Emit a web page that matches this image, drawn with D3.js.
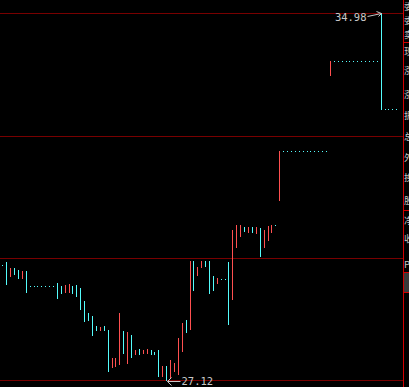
<!DOCTYPE html>
<html>
<head>
<meta charset="utf-8">
<script src="https://cdn.jsdelivr.net/npm/d3@7"></script>
<style>
  html, body { margin: 0; padding: 0; background: #000; }
  svg { display: block; }
</style>
</head>
<body>
<svg id="chart" width="409" height="387"></svg>
<script>
// ---- data (daily candles) ----
const opens = [29.58, 29.65, 29.35, 29.52, 29.48, 29.30, 29.46,
  29.13, 29.13, 29.13, 29.13, 29.13, 29.13, 29.13,
  29.20, 29.13, 29.01, 29.00, 29.14, 29.15, 29.08, 28.81, 28.56, 28.49, 28.28, 28.19, 28.28, 28.19,
  27.39, 27.41, 27.47, 28.17, 27.48, 28.08, 27.68, 27.78, 27.70, 27.70, 27.76, 27.72, 27.76, 27.21,
  27.41, 27.18, 27.32, 27.25, 27.75, 28.40, 28.21, 29.67, 29.37, 29.53, 29.67, 29.67, 29.35, 29.19,
  29.28, 29.28, 29.65, 28.85, 29.96, 30.21, 30.39, 30.30, 30.39, 30.27, 30.37, 29.97, 30.12, 30.30,
  30.44, 30.98,
  32.02, 32.02, 32.02, 32.02, 32.02, 32.02, 32.02, 32.02, 32.02, 32.02, 32.02, 32.02,
  33.65,
  33.95, 33.95, 33.95, 33.95, 33.95, 33.95, 33.95, 33.95, 33.95, 33.95, 33.95, 33.95,
  34.98,
  32.92, 32.92, 32.92, 32.92];
const highs = [29.58, 29.65, 29.52, 29.52, 29.48, 29.46, 29.46,
  29.13, 29.13, 29.13, 29.13, 29.13, 29.13, 29.13,
  29.20, 29.13, 29.15, 29.17, 29.14, 29.15, 29.08, 28.81, 28.56, 28.49, 28.28, 28.26, 28.28, 28.19,
  27.59, 27.60, 28.55, 28.17, 28.15, 28.08, 27.76, 27.78, 27.76, 27.78, 27.76, 27.72, 27.76, 27.42,
  27.41, 27.55, 27.49, 28.01, 28.34, 28.40, 29.67, 29.67, 29.55, 29.67, 29.67, 29.67, 29.35, 29.30,
  29.28, 29.28, 29.65, 30.33, 30.44, 30.44, 30.39, 30.39, 30.39, 30.39, 30.37, 30.33, 30.42, 30.44,
  30.44, 32.02,
  32.02, 32.02, 32.02, 32.02, 32.02, 32.02, 32.02, 32.02, 32.02, 32.02, 32.02, 32.02,
  33.95,
  33.95, 33.95, 33.95, 33.95, 33.95, 33.95, 33.95, 33.95, 33.95, 33.95, 33.95, 33.95,
  34.98,
  32.92, 32.92, 32.92, 32.92];
const lows = [29.58, 29.18, 29.35, 29.38, 29.31, 29.30, 29.01,
  29.13, 29.13, 29.13, 29.13, 29.13, 29.13, 29.13,
  28.88, 28.99, 29.01, 29.00, 28.99, 28.92, 28.64, 28.39, 28.40, 28.08, 28.19, 28.19, 28.19, 27.31,
  27.39, 27.41, 27.47, 27.69, 27.48, 27.61, 27.68, 27.68, 27.70, 27.70, 27.68, 27.68, 27.21, 27.21,
  27.12, 27.18, 27.32, 27.25, 27.75, 28.15, 28.21, 29.05, 29.37, 29.53, 29.57, 28.98, 29.04, 29.19,
  29.28, 29.28, 28.33, 28.85, 29.96, 30.21, 30.32, 30.30, 30.30, 30.27, 29.78, 29.97, 30.12, 30.30,
  30.44, 30.98,
  32.02, 32.02, 32.02, 32.02, 32.02, 32.02, 32.02, 32.02, 32.02, 32.02, 32.02, 32.02,
  33.65,
  33.95, 33.95, 33.95, 33.95, 33.95, 33.95, 33.95, 33.95, 33.95, 33.95, 33.95, 33.95,
  32.92,
  32.92, 32.92, 32.92, 32.92];
const closes = [29.58, 29.18, 29.52, 29.38, 29.31, 29.46, 29.01,
  29.13, 29.13, 29.13, 29.13, 29.13, 29.13, 29.13,
  28.88, 28.99, 29.15, 29.17, 28.99, 28.92, 28.64, 28.39, 28.40, 28.08, 28.19, 28.26, 28.19, 27.31,
  27.59, 27.60, 28.55, 27.69, 28.15, 27.61, 27.76, 27.68, 27.76, 27.78, 27.68, 27.68, 27.21, 27.42,
  27.12, 27.55, 27.49, 28.01, 28.34, 28.15, 29.67, 29.05, 29.55, 29.67, 29.57, 28.98, 29.04, 29.30,
  29.28, 29.28, 28.33, 30.33, 30.44, 30.44, 30.32, 30.39, 30.30, 30.39, 29.78, 30.33, 30.42, 30.44,
  30.44, 32.02,
  32.02, 32.02, 32.02, 32.02, 32.02, 32.02, 32.02, 32.02, 32.02, 32.02, 32.02, 32.02,
  33.95,
  33.95, 33.95, 33.95, 33.95, 33.95, 33.95, 33.95, 33.95, 33.95, 33.95, 33.95, 33.95,
  32.92,
  32.92, 32.92, 32.92, 32.92];
const gridPrices = [34.98, 32.36, 29.74, 27.12];
const panelLabels = ["委比", "委差", "卖盘", "现价", "涨跌", "涨幅", "振幅", "总量", "外盘", "换手", "股本", "净资", "收益", "PE"];

// ---- layout ----
const W = 409, H = 387;
const UP = "#ff5050", DOWN = "#54fcfc", GRID = "#780000", EDGE = "#d00000", TXT = "#c8c8c8";
const svg = d3.select("#chart");
svg.append("rect").attr("width", W).attr("height", H).attr("fill", "#000");

const idx = d3.range(highs.length);
const x = d3.scaleLinear().domain([0, highs.length - 1]).range([2.8, 396.7]);
const y = d3.scaleLinear().domain([d3.min(lows), d3.max(highs)]).range([380, 13]);
const plotRight = 403;

// grid lines
svg.append("g").selectAll("line").data(gridPrices).join("line")
  .attr("x1", 0).attr("x2", plotRight)
  .attr("y1", d => Math.ceil(y(d)) + 0.5).attr("y2", d => Math.ceil(y(d)) + 0.5)
  .attr("stroke", GRID).attr("stroke-width", 1).attr("shape-rendering", "crispEdges");

// candles (1px wide at this compression)
svg.append("g").selectAll("rect").data(idx).join("rect")
  .attr("x", i => Math.floor(x(i)))
  .attr("width", 1)
  .attr("y", i => Math.round(y(highs[i])))
  .attr("height", i => Math.max(1, Math.round(y(lows[i])) - Math.round(y(highs[i])) + 1))
  .attr("fill", i => closes[i] > opens[i] ? UP : DOWN)
  .attr("shape-rendering", "crispEdges");

// max / min markers
const iMax = d3.maxIndex(highs), iMin = d3.minIndex(lows);
const mx = Math.floor(x(iMax)) + 0.5, my = Math.round(y(highs[iMax])) + 0.5;
const nx = Math.floor(x(iMin)) + 0.5, ny = Math.round(y(lows[iMin])) + 0.5;
const mono = "'DejaVu Sans Mono', 'Liberation Mono', monospace";

svg.append("text").attr("x", mx - 15).attr("y", my + 7.5)
  .attr("text-anchor", "end").attr("font-family", mono).attr("font-size", 10.5)
  .attr("fill", TXT).text(highs[iMax].toFixed(2));
svg.append("path")
  .attr("d", `M${mx - 14},${my + 3} L${mx},${my} M${mx - 5},${my - 2} L${mx},${my} L${mx - 3},${my + 3}`)
  .attr("stroke", TXT).attr("fill", "none").attr("stroke-width", 1);

svg.append("text").attr("x", nx + 15).attr("y", ny + 4.5)
  .attr("text-anchor", "start").attr("font-family", mono).attr("font-size", 10.5)
  .attr("fill", TXT).text(lows[iMin].toFixed(2));
svg.append("path")
  .attr("d", `M${nx + 14},${ny + 1} L${nx + 1},${ny + 1} M${nx + 5},${ny - 3} L${nx + 1},${ny + 1} L${nx + 5},${ny + 5}`)
  .attr("stroke", TXT).attr("fill", "none").attr("stroke-width", 1);

// right info panel (mostly cut off by the window)
svg.append("line").attr("x1", plotRight + 0.5).attr("x2", plotRight + 0.5).attr("y1", 0).attr("y2", H)
  .attr("stroke", EDGE).attr("stroke-width", 1);
[42.5, 210.5].forEach(yy => svg.append("line").attr("x1", plotRight).attr("x2", W)
  .attr("y1", yy).attr("y2", yy).attr("stroke", EDGE));
svg.append("rect").attr("x", plotRight + 0.5).attr("y", 272.5).attr("width", 8).attr("height", 20)
  .attr("fill", "#3a3a3a").attr("stroke", EDGE);
const panelRows = [10, 24, 38, 55, 74, 98, 119, 140, 161, 181, 204, 224, 242, 268];
svg.append("g").selectAll("text").data(panelLabels).join("text")
  .attr("x", 404).attr("y", (d, i) => panelRows[i])
  .attr("font-family", "'Noto Sans CJK SC', sans-serif").attr("font-size", 9.5)
  .attr("fill", TXT).text(d => d);
</script>
</body>
</html>
